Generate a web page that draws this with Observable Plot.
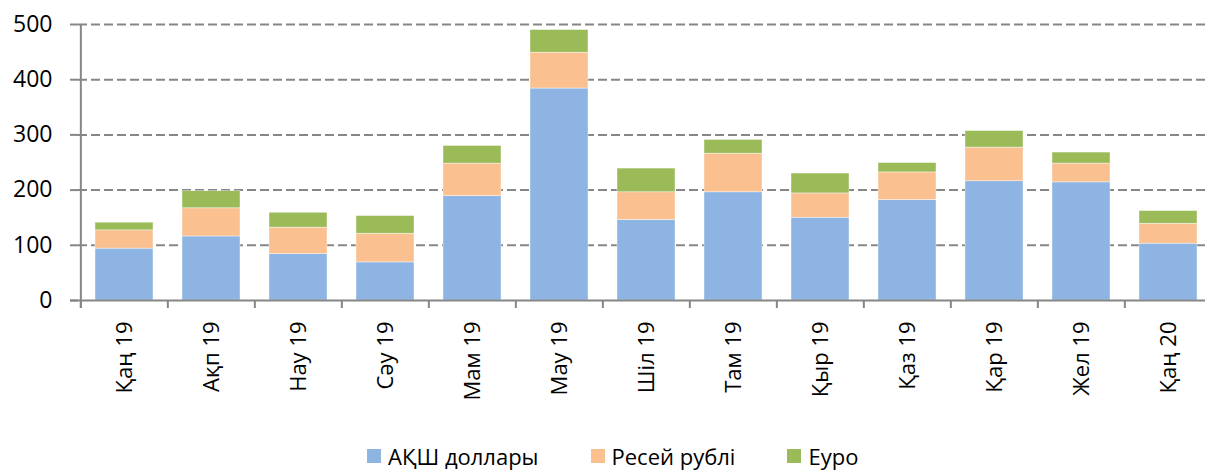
<!DOCTYPE html>
<html>
<head>
<meta charset="utf-8">
<script src="https://cdn.jsdelivr.net/npm/d3@7"></script>
<script src="https://cdn.jsdelivr.net/npm/@observablehq/plot@0.6"></script>
<style>
  body { margin: 0; background: #fff; font-family: "Open Sans", "DejaVu Sans", sans-serif; }
  #wrap { position: relative; width: 1205px; height: 475px; overflow: hidden; }
  #legend { position: absolute; left: 367px; top: 442px; display: flex; font-size: 22px; line-height: 28px; color: #000; white-space: nowrap; }
  .item { display: flex; align-items: center; margin-right: 52px; }
  .sw { width: 14px; height: 14px; margin-right: 7px; }
</style>
</head>
<body>
<div id="wrap"><div id="chart"></div><div id="legend"></div></div>
<script>
const months = ["Қаң 19","Ақп 19","Нау 19","Сәу 19","Мам 19","Мау 19","Шіл 19","Там 19","Қыр 19","Қаз 19","Қар 19","Жел 19","Қаң 20"];
const seriesNames = ["АҚШ доллары","Ресей рублі","Еуро"];
const usd = [94,116,84,69,189,384,146,196,150,182,216,214,103];
const rub = [33,51,48,52,59,65,50,70,44,50,61,34,36];
const eur = [14,31,27,32,32,41,43,25,36,17,30,20,23];
const yTicks = [0,100,200,300,400,500];
const colors = ["#8EB4E3","#FAC090","#9BBB59"];

const data = [];
[usd, rub, eur].forEach((arr, s) => arr.forEach((v, i) => data.push({month: months[i], series: seriesNames[s], value: v})));

const x0 = 78, x1 = 1213;
const step = (x1 - x0) / months.length;
const grid = "#868686";

const chart = Plot.plot({
  width: 1205,
  height: 440,
  marginTop: 24,
  marginBottom: 140,
  marginLeft: 78,
  marginRight: 0,
  style: {fontFamily: "'Open Sans', 'DejaVu Sans', sans-serif", background: "white", color: "#000"},
  x: {domain: months, range: [x0, x1], paddingInner: 0.335, paddingOuter: 0.1675, align: 0.5},
  y: {domain: [0, 500]},
  color: {domain: seriesNames, range: colors},
  marks: [
    Plot.ruleY(yTicks.filter(d => d > 0), {stroke: grid, strokeWidth: 2, strokeDasharray: "9,4"}),
    Plot.barY(data, {x: "month", y: "value", fill: "series", order: seriesNames, stroke: "#ffffff", strokeWidth: 0.6, strokeOpacity: 0.7}),
    Plot.ruleY([0], {stroke: grid, strokeWidth: 2, insetLeft: -8}),
    Plot.ruleX([months[0]], {dx: -step / 2, stroke: grid, strokeWidth: 2, insetBottom: -8}),
    Plot.ruleX(months, {dx: -step / 2, stroke: grid, strokeWidth: 2, insetTop: 276, insetBottom: -8}),
    Plot.axisY({ticks: yTicks, tickSize: 8, tickPadding: 18, fontSize: 23, stroke: grid, strokeWidth: 2, tickFormat: d => String(d), label: null}),
    Plot.axisX({tickSize: 0, tickPadding: 21, tickRotate: -90, fontSize: 22, label: null})
  ]
});
document.getElementById("chart").appendChild(chart);

const legend = document.getElementById("legend");
seriesNames.forEach((n, i) => {
  const it = document.createElement("div");
  it.className = "item";
  const sw = document.createElement("div");
  sw.className = "sw";
  sw.style.background = colors[i];
  const t = document.createElement("span");
  t.textContent = n;
  it.appendChild(sw); it.appendChild(t);
  legend.appendChild(it);
});
</script>
</body>
</html>
